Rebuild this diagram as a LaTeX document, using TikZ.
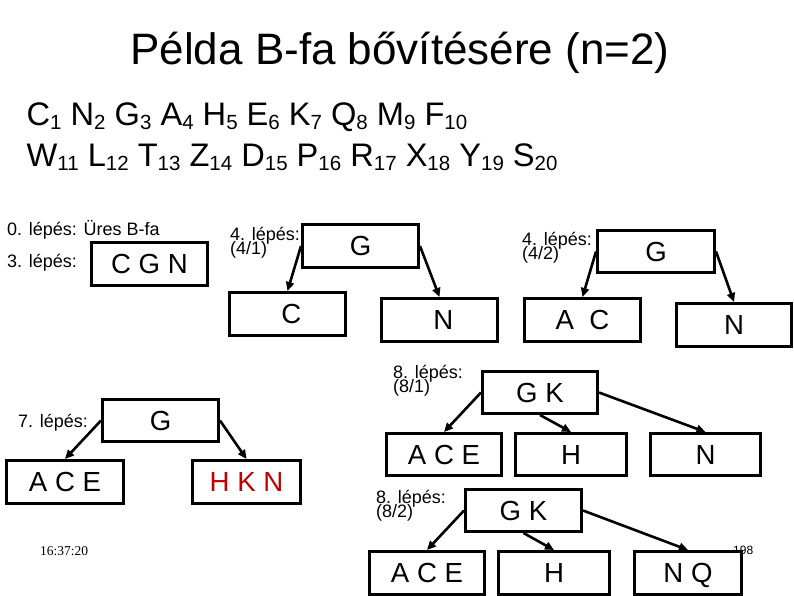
\documentclass[tikz,border=0pt]{standalone}
\usepackage{fontspec}
\setmainfont{Liberation Sans}
\newfontfamily\timefont{Liberation Serif}
\usetikzlibrary{arrows.meta}
\definecolor{hknred}{RGB}{192,0,0}
\newcommand{\lsub}[2]{#1\raisebox{-4.5pt}{\fontsize{20.5}{20}\selectfont #2}}
\begin{document}
\begin{tikzpicture}[x=1pt,y=-1pt,
  box/.style 2 args={draw, line width=3pt, fill=white, inner sep=0pt,
    minimum width=#1pt, minimum height=#2pt,
    font=\fontsize{27.6}{30}\selectfont, text height=19.8pt, text depth=0pt},
  lbl/.style={inner sep=0pt, anchor=base west, font=\fontsize{18}{18}\selectfont},
  arr/.style={line width=2.6pt, -{Triangle[length=9pt,width=8pt]}}]
\useasboundingbox[fill=white] (0,0) rectangle (794,595);

% title and sequence
\node[inner sep=0pt, anchor=base, font=\fontsize{44}{48}\selectfont] (title) at (400,64) {Példa B-fa bővítésére (n=2)};
\node[inner sep=0pt, anchor=base west, font=\fontsize{32.6}{36}\selectfont] (seq1) at (26.5,125.3)
  {\lsub{C}{1} \lsub{N}{2} \lsub{G}{3} \lsub{A}{4} \lsub{H}{5} \lsub{E}{6} \lsub{K}{7} \lsub{Q}{8} \lsub{M}{9} \lsub{F}{10}};
\node[inner sep=0pt, anchor=base west, font=\fontsize{32.6}{36}\selectfont] (seq2) at (26.5,166)
  {\lsub{W}{11} \lsub{L}{12} \lsub{T}{13} \lsub{Z}{14} \lsub{D}{15} \lsub{P}{16} \lsub{R}{17} \lsub{X}{18} \lsub{Y}{19} \lsub{S}{20}};

% step 0 and 3
\node[lbl] (l0) at (7,235) {0. lépés: Üres B-fa};
\node[lbl] (l3) at (7,267) {3. lépés:};
\node[box={116}{43}] (cgn) at (149.5,264) {C G N};

% step 4/1
\node[lbl] (l41a) at (230,240) {4. lépés:};
\node[lbl] (l41b) at (230,254) {(4/1)};
\node[box={116}{43}] (g41) at (360.5,246) {G};
\node[box={116}{43}] (c41) at (287.5,314) {\ C};
\node[box={116}{43}] (n41) at (439.5,320) {\ N};
\draw[arr] (g41.west) -- (c41.north);
\draw[arr] (g41.east) -- (n41.north);

% step 4/2
\node[lbl] (l42a) at (522,245) {4. lépés:};
\node[lbl] (l42b) at (522,259) {(4/2)};
\node[box={117}{42}] (g42) at (656,251.5) {G};
\node[box={116}{43}] (ac42) at (582.5,320) {A\ \ C};
\node[box={115}{43}] (n42) at (734,325) {N};
\draw[arr] (g42.west) -- (ac42.north);
\draw[arr] (g42.east) -- (n42.north);

% step 7
\node[lbl] (l7) at (18,427) {7. lépés:};
\node[box={116}{42}] (g7) at (160.5,420.5) {G};
\node[box={117}{43}] (ace7) at (65,482) {A C E};
\node[box={108}{43}] (hkn7) at (246.5,482) {\textcolor{hknred}{H K N}};
\draw[arr] (g7.west) -- (ace7.north);
\draw[arr] (g7.east) -- (hkn7.north);

% step 8/1
\node[lbl] (l81a) at (393,378) {8. lépés:};
\node[lbl] (l81b) at (393,392) {(8/1)};
\node[box={115}{42}] (gk81) at (540,392.5) {G K};
\node[box={115}{42}] (ace81) at (444,454.5) {A C E};
\node[box={111}{42}] (h81) at (571,454.5) {H};
\node[box={110}{42}] (n81) at (705.5,454.5) {N};
\draw[arr] (gk81.west) -- (ace81.north);
\draw[arr] (gk81.south) -- (h81.north);
\draw[arr] (gk81.east) -- (n81.north);

% step 8/2
\node[lbl] (l82a) at (376,503) {8. lépés:};
\node[lbl] (l82b) at (376,517) {(8/2)};
\node[inner sep=0pt, anchor=base west, font=\fontsize{12}{12}\selectfont] (pnum) at (733,554) {198};
\node[box={116}{42}] (gk82) at (523.5,510.5) {G K};
\node[box={115}{43}] (ace82) at (427,573) {A C E};
\node[box={111}{43}] (h82) at (554,573) {H};
\node[box={107}{43}] (nq82) at (688,573) {N Q};
\draw[arr] (gk82.west) -- (ace82.north);
\draw[arr] (gk82.south) -- (h82.north);
\draw[arr] (gk82.east) -- (nq82.north);

% timestamp
\node[inner sep=0pt, anchor=base west, font=\timefont\fontsize{13.5}{14}\selectfont] (time) at (40,555) {16:37:20};
\end{tikzpicture}
\end{document}
